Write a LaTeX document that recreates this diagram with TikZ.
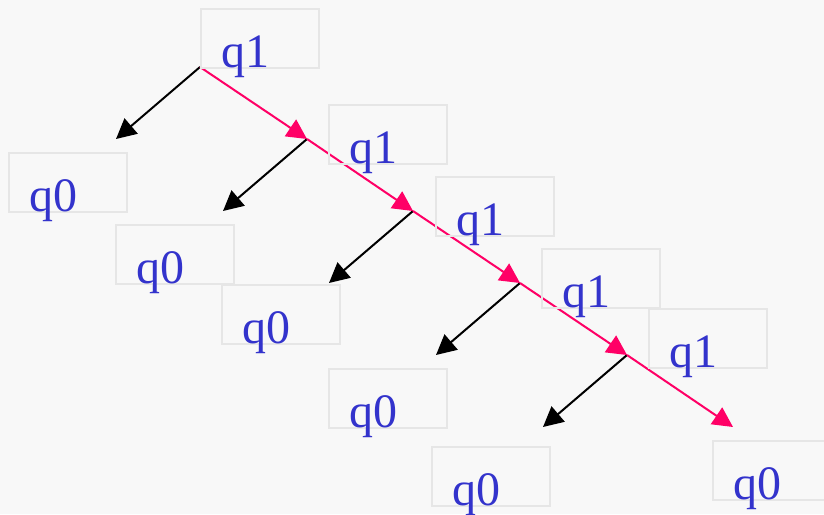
\documentclass[tikz,border=0pt]{standalone}
\usepackage{fontspec}
\setmainfont{Liberation Serif}
\usetikzlibrary{arrows.meta,calc}
\definecolor{bggray}{HTML}{F8F8F8}
\definecolor{boxgray}{HTML}{E6E6E6}
\definecolor{qblue}{HTML}{3333CC}
\definecolor{hotpink}{HTML}{FF0066}
\begin{document}
\begin{tikzpicture}[
    x=0.5pt, y=-0.5pt,
    stbox/.style={draw=boxgray, line width=1pt, minimum width=59pt, minimum height=29.5pt, inner sep=0, anchor=north west},
    st/.style={text=qblue, font=\fontsize{24}{28}\selectfont, inner sep=0, anchor=base west},
    drop/.style={-{Triangle[length=10pt,width=10pt]}, line width=1pt, black},
    path/.style={-{Triangle[length=10pt,width=10pt]}, line width=1pt, hotpink}
]
    \useasboundingbox[fill=bggray] (0,0) rectangle (824,514);

    % branch points and tips
    \coordinate (p0) at (200,67);
    \coordinate (p1) at (307,139);
    \coordinate (p2) at (413,211);
    \coordinate (p3) at (520,283);
    \coordinate (p4) at (627,355);
    \coordinate (p5) at (733,427);
    \coordinate (c1) at (116,139);
    \coordinate (c2) at (223,211);
    \coordinate (c3) at (329,283);
    \coordinate (c4) at (436,355);
    \coordinate (c5) at (543,427);

    \draw[drop] (p0) -- (c1);
    \draw[drop] (p1) -- (c2);
    \draw[drop] (p2) -- (c3);
    \draw[drop] (p3) -- (c4);
    \draw[drop] (p4) -- (c5);

    \draw[path] (p0) -- (p1);
    \draw[path] (p1) -- (p2);
    \draw[path] (p2) -- (p3);
    \draw[path] (p3) -- (p4);
    \draw[path] (p4) -- (p5);

    % q1 states
    \node[stbox] (a1) at (200,8) {};
    \node[stbox] (a2) at (328,104) {};
    \node[stbox] (a3) at (435,176) {};
    \node[stbox] (a4) at (541,248) {};
    \node[stbox] (a5) at (648,308) {};
    % q0 states
    \node[stbox] (b1) at (8,152) {};
    \node[stbox] (b2) at (115,224) {};
    \node[stbox] (b3) at (221,284) {};
    \node[stbox] (b4) at (328,368) {};
    \node[stbox] (b5) at (431,446) {};
    \node[stbox] (b6) at (712,440) {};

    \node[st] (a1t) at ($(a1.south west)+(21,-2)$) {q1};
    \node[st] (a2t) at ($(a2.south west)+(21,-2)$) {q1};
    \node[st] (a3t) at ($(a3.south west)+(21,-2)$) {q1};
    \node[st] (a4t) at ($(a4.south west)+(21,-2)$) {q1};
    \node[st] (a5t) at ($(a5.south west)+(21,-2)$) {q1};
    \node[st] (b1t) at ($(b1.south west)+(21,-2)$) {q0};
    \node[st] (b2t) at ($(b2.south west)+(21,-2)$) {q0};
    \node[st] (b3t) at ($(b3.south west)+(21,-2)$) {q0};
    \node[st] (b4t) at ($(b4.south west)+(21,-2)$) {q0};
    \node[st] (b5t) at ($(b5.south west)+(21,-2)$) {q0};
    \node[st] (b6t) at ($(b6.south west)+(21,-2)$) {q0};
\end{tikzpicture}
\end{document}
